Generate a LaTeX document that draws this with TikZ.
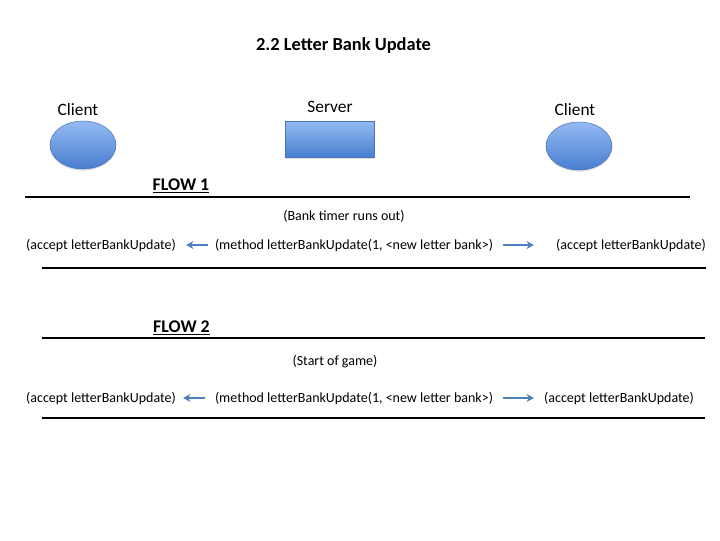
\documentclass[tikz,border=0pt]{standalone}
\usepackage{fontspec}
\setmainfont{Carlito}
\usepackage{tikz}
\usetikzlibrary{positioning}
\usetikzlibrary{shapes.geometric}
\usetikzlibrary{shadows}
\usetikzlibrary{arrows.meta}

\definecolor{bluetop}{RGB}{148,186,242}
\definecolor{bluebot}{RGB}{72,126,208}
\definecolor{blueline}{RGB}{74,118,184}
\definecolor{arrowblue}{RGB}{79,129,189}

\tikzset{
    client/.style={ellipse, draw=blueline, top color=bluetop, bottom color=bluebot, minimum width=49.5pt, minimum height=36pt, inner sep=0pt, drop shadow={opacity=0.25, shadow xshift=0pt, shadow yshift=-1.2pt}},
    server/.style={rectangle, draw=blueline, top color=bluetop, bottom color=bluebot, minimum width=66.75pt, minimum height=27pt, inner sep=0pt, drop shadow={opacity=0.25, shadow xshift=0pt, shadow yshift=-1.2pt}},
    msg/.style={font=\fontsize{10.5}{12}\selectfont, inner sep=0pt},
    label/.style={font=\fontsize{13}{15}\selectfont, inner sep=0pt},
    flow/.style={font=\fontsize{13.4}{15}\selectfont\bfseries, inner sep=0pt},
    pfeil/.style={draw=arrowblue, line width=1.5pt, -{Stealth[length=5.5pt, width=6pt]}},
    trenner/.style={line width=1.5pt},
}

\begin{document}
\begin{tikzpicture}[x=0.75pt, y=-0.75pt]
    \useasboundingbox (0,0) rectangle (720,540);

    %Titel
    \node[font=\fontsize{13.8}{16}\selectfont\bfseries, inner sep=0pt] at (343.5,45) (titel) {2.2 Letter Bank Update};

    %Client links
    \node[client] at (83,145) (clientL) {};
    \node[label] at (78,110) (clientLtxt) {Client};
    %Server
    \node[server] at (329.5,139) (server) {};
    \node[label] at (330,107) (servertxt) {Server};
    %Client rechts
    \node[client] at (579,146) (clientR) {};
    \node[label] at (575,110) (clientRtxt) {Client};

    %FLOW 1
    \node[flow] at (181,186) (flow1) {\underline{FLOW 1}};
    \coordinate (t1a) at (25,197);
    \coordinate (t1b) at (690,197);
    \draw[trenner] (t1a) -- (t1b);
    \node[msg] at (344,216) (timer) {(Bank timer runs out)};
    \node[msg] at (101,245) (acc1L) {(accept letterBankUpdate)};
    \node[msg] at (354,245) (meth1) {(method letterBankUpdate(1, <new letter bank>)};
    \node[msg] at (631,245) (acc1R) {(accept letterBankUpdate)};
    \coordinate (t2a) at (42,268);
    \coordinate (t2b) at (706,268);
    \draw[trenner] (t2a) -- (t2b);

    %FLOW 2
    \node[flow] at (181.5,328) (flow2) {\underline{FLOW 2}};
    \coordinate (t3a) at (42,338);
    \coordinate (t3b) at (705,338);
    \draw[trenner] (t3a) -- (t3b);
    \node[msg] at (335,362) (start) {(Start of game)};
    \node[msg] at (101,398) (acc2L) {(accept letterBankUpdate)};
    \node[msg] at (354,398) (meth2) {(method letterBankUpdate(1, <new letter bank>)};
    \node[msg] at (619,398) (acc2R) {(accept letterBankUpdate)};
    \coordinate (t4a) at (42,418);
    \coordinate (t4b) at (705,418);
    \draw[trenner] (t4a) -- (t4b);




    %Methode 1 zu Clients
    \draw[pfeil, shorten <=5.25pt, shorten >=7.5pt] (meth1.west) -- (acc1L.east);
    \draw[pfeil, shorten <=7.5pt, shorten >=16.5pt] (meth1.east) -- (meth1.east -| acc1R.west);
    %Methode 2 zu Clients
    \draw[pfeil, shorten <=7.5pt, shorten >=5.25pt] (meth2.west) -- (acc2L.east);
    \draw[pfeil, shorten <=7.5pt, shorten >=7.5pt] (meth2.east) -- (meth2.east -| acc2R.west);

\end{tikzpicture}
\end{document}
